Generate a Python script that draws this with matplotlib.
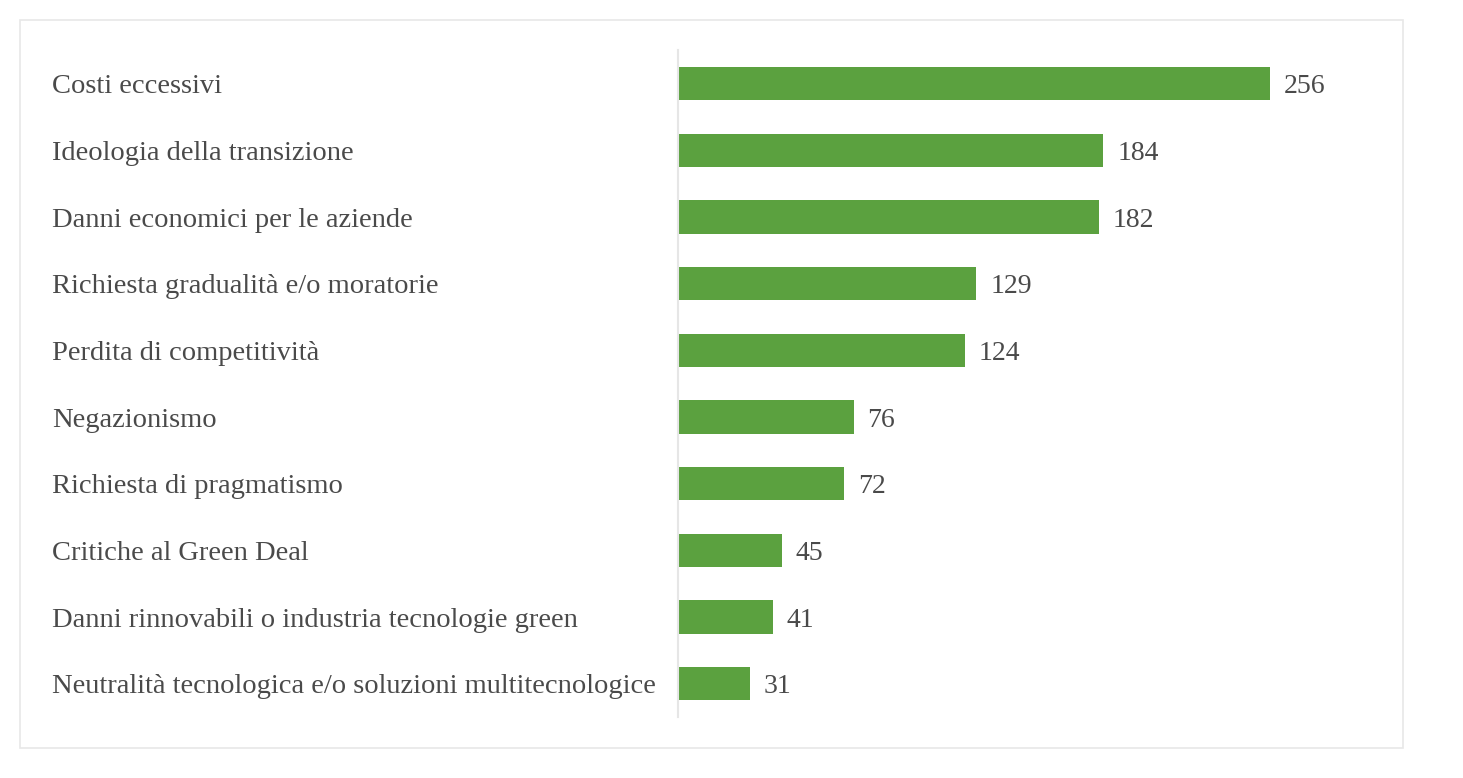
import matplotlib.pyplot as plt
from matplotlib.patches import Rectangle

categories = [
    'Costi eccessivi',
    'Ideologia della transizione',
    'Danni economici per le aziende',
    'Richiesta gradualità e/o moratorie',
    'Perdita di competitività',
    'Negazionismo',
    'Richiesta di pragmatismo',
    'Critiche al Green Deal',
    'Danni rinnovabili o industria tecnologie green',
    'Neutralità tecnologica e/o soluzioni multitecnologice',
]
values = [256, 184, 182, 129, 124, 76, 72, 45, 41, 31]

plt.rcParams['font.family'] = ['Liberation Serif', 'DejaVu Serif']

W, H = 1463, 778
fig = plt.figure(figsize=(W / 100, H / 100), dpi=100)

# outer frame
fig.patches.append(Rectangle((20 / W, 1 - 748 / H), (1403 - 20) / W, (748 - 20) / H,
                             transform=fig.transFigure, fill=False,
                             edgecolor='#e8e8e8', linewidth=1.2))

ax = fig.add_axes([678 / W, 1 - 717 / H, 670.6 / W, 666.5 / H])
y = list(range(len(categories)))
ax.barh(y, values, height=0.5, color='#5ba13f')
ax.set_ylim(len(categories) - 0.5, -0.5)
ax.set_xlim(0, 290)

for yi, v in zip(y, values):
    ax.text(v + 6, yi, str(v), va='center_baseline', ha='left', fontsize=20,
            color='#4a4a4a')

ax.set_yticks([])
ax.set_xticks([])
for s in ['top', 'right', 'bottom']:
    ax.spines[s].set_visible(False)
ax.spines['left'].set_color('#e6e6e6')
ax.spines['left'].set_linewidth(1.5)

# category labels, left aligned at x=52px
for yi, lab in zip(y, categories):
    disp_y = ax.transData.transform((0, yi))[1]
    fig.text(52 / W, disp_y / H, lab, ha='left', va='center_baseline',
             fontsize=20.5, color='#4a4a4a')

fig.savefig('out.png', dpi=100)
